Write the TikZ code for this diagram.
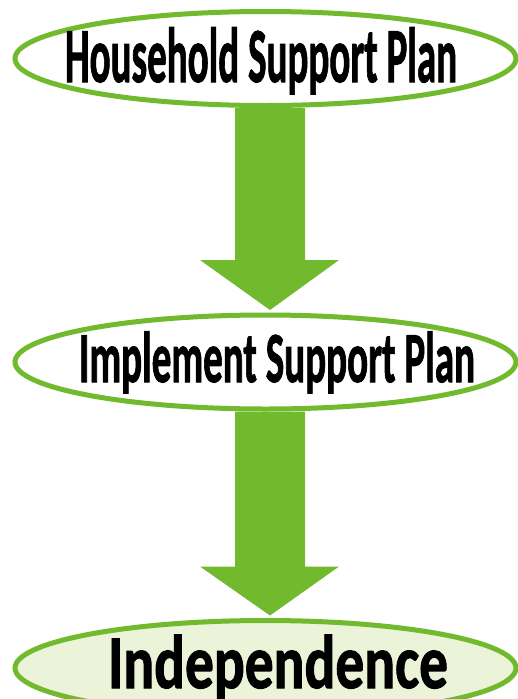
\documentclass[tikz,border=0pt]{standalone}
\usepackage{fontspec}
\setmainfont{Carlito}[BoldFeatures={FakeBold=1.5}]
\usetikzlibrary{shapes.geometric,calc}
\definecolor{leaf}{RGB}{113,186,45}
\definecolor{paleleaf}{RGB}{235,243,217}
\pgfdeclarelayer{background}
\pgfsetlayers{background,main}
\tikzset{
  bubble/.style={ellipse, draw=leaf, line width=5pt, fill=white, inner sep=0pt,
                 minimum width=501pt, minimum height=94pt},
  goal/.style={bubble, fill=paleleaf, minimum height=95pt},
  lbl/.style={anchor=base, inner sep=0pt, font=\bfseries},
  blockarrow/.style={fill=leaf}
}
\newcommand{\fitlabel}[3]{\resizebox{#1}{\height}{\fontsize{#2}{#2}\selectfont #3}}
\begin{document}
\begin{tikzpicture}[x=1pt,y=-1pt]
\useasboundingbox (0,0) rectangle (518,699);
\clip (0,0) rectangle (518,699);

\node[bubble] (e1) at (265.5,58.5) {};
\node[bubble] (e2) at (265.5,362) {};
\node[goal]   (e3) at (265.5,668) {};

\node[lbl] (t1) at (261,82)  {\fitlabel{392pt}{78pt}{Household Support Plan}};
\node[lbl] (t2) at (277,382) {\fitlabel{396pt}{72pt}{Implement Support Plan}};
\node[lbl] (t3) at (278,688) {\fitlabel{340pt}{76pt}{Independence}};

\begin{pgfonlayer}{background}
\fill[white] (0,0) rectangle (518,699);
\fill[blockarrow] ($(e1.south)+(-30.5,0)$) -- ($(e1.south)+(39.5,0)$)
  -- ($(e2.north)+(39.5,-52.5)$) -- ($(e2.north)+(73.5,-52.5)$)
  -- ($(e2.north)+(4.5,-2.5)$)
  -- ($(e2.north)+(-65.5,-52.5)$) -- ($(e2.north)+(-30.5,-52.5)$) -- cycle;
\fill[blockarrow] ($(e2.south)+(-30.5,0)$) -- ($(e2.south)+(39.5,0)$)
  -- ($(e3.north)+(39.5,-51.5)$) -- ($(e3.north)+(73.5,-51.5)$)
  -- ($(e3.north)+(4.5,-2.5)$)
  -- ($(e3.north)+(-65.5,-51.5)$) -- ($(e3.north)+(-30.5,-51.5)$) -- cycle;
\end{pgfonlayer}
\end{tikzpicture}
\end{document}
